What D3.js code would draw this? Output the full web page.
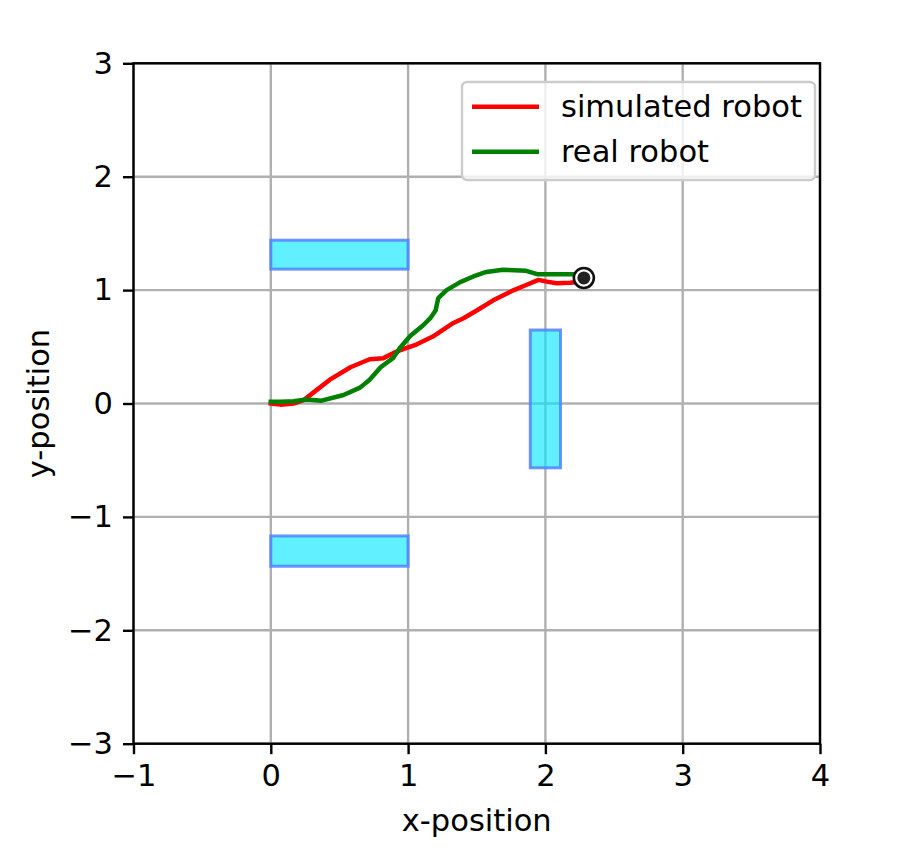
<!DOCTYPE html>
<html><head><meta charset="utf-8">
<script src="https://cdn.jsdelivr.net/npm/d3@7"></script>
<style>body{margin:0;background:#fff}svg{display:block}text{font-family:"DejaVu Sans",sans-serif}</style>
</head><body><svg id="c" width="920" height="854"></svg>
<script>
const xTicks = [-1,0,1,2,3,4];
const yTicks = [-3,-2,-1,0,1,2,3];
const simX = [0,0.07,0.165,0.24,0.335,0.43,0.58,0.72,0.82,0.92,0.99,1.06,1.18,1.33,1.40,1.50,1.62,1.77,1.86,1.95,2.01,2.08,2.18,2.25,2.28];
const simY = [0,-0.01,0,0.03,0.12,0.21,0.32,0.39,0.40,0.46,0.49,0.52,0.59,0.71,0.75,0.82,0.91,1.0,1.045,1.09,1.075,1.06,1.065,1.074,1.09];
const realX = [0,0.07,0.165,0.26,0.37,0.53,0.65,0.72,0.80,0.89,0.94,1.015,1.11,1.16,1.20,1.22,1.28,1.38,1.475,1.57,1.69,1.86,1.94,2.03,2.20,2.28];
const realY = [0.015,0.015,0.02,0.035,0.025,0.075,0.14,0.21,0.32,0.40,0.49,0.595,0.69,0.75,0.82,0.93,1.0,1.07,1.12,1.16,1.18,1.17,1.14,1.14,1.14,1.12];
const obsX0 = [0,0,1.89];
const obsX1 = [1,1,2.11];
const obsY0 = [1.185,-1.435,-0.567];
const obsY1 = [1.44,-1.168,0.648];
const goal = [2.28,1.107];
const seriesNames = ["simulated robot","real robot"];
const seriesColors = ["#ff0000","#008000"];

const svg = d3.select("#c");
const L=133.5,R=820,T=63.3,B=743.7;
const FS = 30.5;
const x = d3.scaleLinear().domain([-1,4]).range([L,R]);
const y = d3.scaleLinear().domain([-3,3]).range([B,T]);

// grid
const g = svg.append("g");
g.selectAll(".gx").data(xTicks).enter().append("line")
 .attr("x1",d=>x(d)).attr("x2",d=>x(d)).attr("y1",T).attr("y2",B)
 .attr("stroke","#b0b0b0").attr("stroke-width",2.4);
g.selectAll(".gy").data(yTicks).enter().append("line")
 .attr("y1",d=>y(d)).attr("y2",d=>y(d)).attr("x1",L).attr("x2",R)
 .attr("stroke","#b0b0b0").attr("stroke-width",2.4);

// obstacles
svg.selectAll(".obs").data(obsX0).enter().append("rect")
 .attr("x",(d,i)=>x(obsX0[i])).attr("width",(d,i)=>x(obsX1[i])-x(obsX0[i]))
 .attr("y",(d,i)=>y(obsY1[i])).attr("height",(d,i)=>y(obsY0[i])-y(obsY1[i]))
 .attr("fill","rgba(0,230,255,0.62)").attr("stroke","rgba(80,130,255,0.85)").attr("stroke-width",3);

// lines
const line = d3.line().x(d=>x(d[0])).y(d=>y(d[1]));
const simPts = simX.map((v,i)=>[v,simY[i]]);
const realPts = realX.map((v,i)=>[v,realY[i]]);
svg.append("path").attr("d",line(simPts)).attr("fill","none").attr("stroke",seriesColors[0]).attr("stroke-width",4.5).attr("stroke-linejoin","round").attr("stroke-linecap","square");
svg.append("path").attr("d",line(realPts)).attr("fill","none").attr("stroke",seriesColors[1]).attr("stroke-width",4.5).attr("stroke-linejoin","round").attr("stroke-linecap","square");

// goal
svg.append("circle").attr("cx",x(goal[0])).attr("cy",y(goal[1])).attr("r",10).attr("fill","#fff").attr("stroke","#111").attr("stroke-width",2.6);
svg.append("circle").attr("cx",x(goal[0])).attr("cy",y(goal[1])).attr("r",6.5).attr("fill","#222");

// axes
const fmt = d=> d<0 ? "\u2212"+Math.abs(d) : ""+d;
const ax = svg.append("g").attr("transform",`translate(0,${B})`).call(d3.axisBottom(x).tickValues(xTicks).tickFormat(fmt).tickSize(10.5).tickPadding(10));
const ay = svg.append("g").attr("transform",`translate(${L},0)`).call(d3.axisLeft(y).tickValues(yTicks).tickFormat(fmt).tickSize(10.5).tickPadding(10));
[ax,ay].forEach(a=>{
 a.attr("font-size",FS).attr("font-family","DejaVu Sans");
 a.select(".domain").remove();
 a.selectAll(".tick line").attr("stroke","#000").attr("stroke-width",2.4);
 a.selectAll("text").attr("fill","#000");
});
// spines
svg.append("rect").attr("x",L).attr("y",T).attr("width",R-L).attr("height",B-T).attr("fill","none").attr("stroke","#000").attr("stroke-width",2.4);

// labels
svg.append("text").attr("x",(L+R)/2).attr("y",831).attr("text-anchor","middle").attr("font-size",FS).text("x-position");
svg.append("text").attr("transform",`translate(48.5,${(T+B)/2}) rotate(-90)`).attr("text-anchor","middle").attr("font-size",FS).text("y-position");

// legend
const lg = svg.append("g");
lg.append("rect").attr("x",462).attr("y",82).attr("width",353).attr("height",98).attr("rx",5)
 .attr("fill","rgba(255,255,255,0.8)").attr("stroke","#cccccc").attr("stroke-width",2.4);
seriesNames.forEach((n,i)=>{
 const yy = 106.7 + i*45;
 lg.append("line").attr("x1",472).attr("x2",539).attr("y1",yy).attr("y2",yy).attr("stroke",seriesColors[i]).attr("stroke-width",4.5);
 lg.append("text").attr("x",561).attr("y",yy+10).attr("font-size",FS).text(n);
});
</script></body></html>
